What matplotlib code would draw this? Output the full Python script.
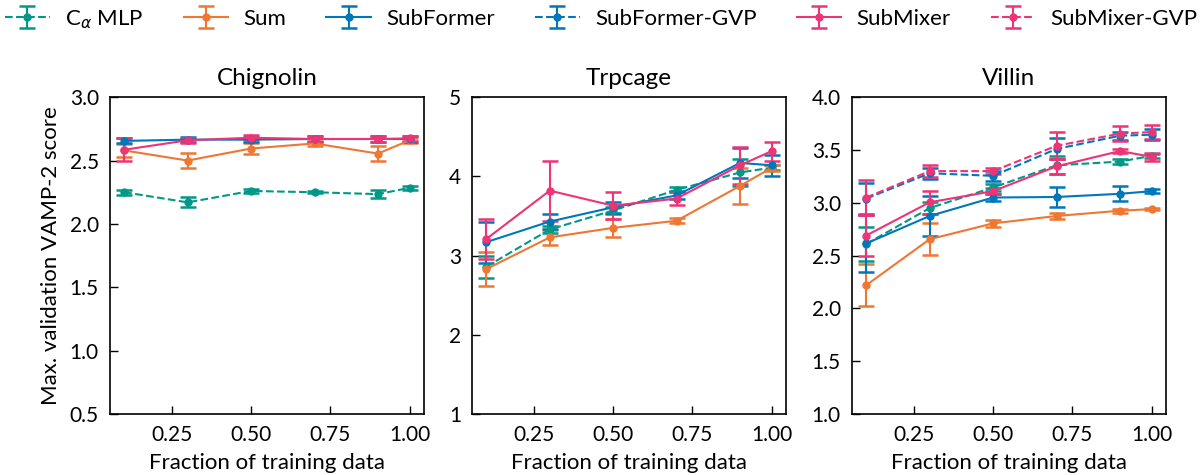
import matplotlib
matplotlib.use("Agg")
import matplotlib.pyplot as plt
import numpy as np

# fraction of training data used
frac = [0.1, 0.3, 0.5, 0.7, 0.9, 1.0]

models = ["C$_\\alpha$ MLP", "Sum", "SubFormer", "SubFormer-GVP", "SubMixer", "SubMixer-GVP"]
colors = ["#009988", "#EE7733", "#0077BB", "#0077BB", "#EE3377", "#EE3377"]
styles = ["--", "-", "-", "--", "-", "--"]

# Chignolin (no GVP runs)
chig_mean = [
    [2.25, 2.17, 2.26, 2.25, 2.235, 2.285],
    [2.58, 2.50, 2.595, 2.635, 2.555, 2.66],
    [2.655, 2.665, 2.665, 2.67, 2.67, 2.67],
    None,
    [2.585, 2.66, 2.68, 2.67, 2.67, 2.675],
    None,
]
chig_err = [
    [0.02, 0.04, 0.015, 0.01, 0.03, 0.015],
    [0.05, 0.06, 0.04, 0.02, 0.06, 0.02],
    [0.02, 0.02, 0.02, 0.02, 0.02, 0.02],
    None,
    [0.09, 0.02, 0.02, 0.02, 0.02, 0.02],
    None,
]

# Trpcage (no GVP runs)
trp_mean = [
    [2.86, 3.33, 3.57, 3.83, 4.05, 4.11],
    [2.83, 3.23, 3.35, 3.44, 3.88, 4.11],
    [3.17, 3.43, 3.61, 3.76, 4.17, 4.14],
    None,
    [3.21, 3.82, 3.63, 3.72, 4.14, 4.32],
    None,
]
trp_err = [
    [0.14, 0.04, 0.04, 0.03, 0.17, 0.03],
    [0.21, 0.09, 0.11, 0.03, 0.23, 0.04],
    [0.26, 0.10, 0.07, 0.05, 0.19, 0.13],
    None,
    [0.25, 0.38, 0.17, 0.08, 0.23, 0.12],
    None,
]

# Villin
vil_mean = [
    [2.61, 2.95, 3.145, 3.355, 3.39, 3.445],
    [2.22, 2.655, 2.805, 2.875, 2.925, 2.94],
    [2.615, 2.875, 3.05, 3.055, 3.085, 3.11],
    [3.04, 3.28, 3.255, 3.51, 3.635, 3.645],
    [2.69, 3.005, 3.11, 3.345, 3.49, 3.435],
    [3.05, 3.30, 3.30, 3.54, 3.655, 3.67],
]
vil_err = [
    [0.16, 0.06, 0.03, 0.085, 0.02, 0.02],
    [0.20, 0.15, 0.03, 0.03, 0.02, 0.01],
    [0.27, 0.19, 0.03, 0.095, 0.07, 0.02],
    [0.15, 0.05, 0.05, 0.10, 0.04, 0.05],
    [0.19, 0.11, 0.03, 0.07, 0.02, 0.04],
    [0.17, 0.06, 0.03, 0.13, 0.07, 0.07],
]

titles = ["Chignolin", "Trpcage", "Villin"]
means = [chig_mean, trp_mean, vil_mean]
errs = [chig_err, trp_err, vil_err]
ylims = [(0.5, 3.0), (1, 5), (1.0, 4.0)]
yticks = [np.arange(0.5, 3.01, 0.5), [1, 2, 3, 4, 5], np.arange(1.0, 4.01, 0.5)]
yfmt = ["{:.1f}", "{:.0f}", "{:.1f}"]

plt.rcParams["font.family"] = ["Lato", "DejaVu Sans"]
plt.rcParams["mathtext.fontset"] = "dejavusans"
plt.rcParams["font.size"] = 15

fig = plt.figure(figsize=(12.03, 4.75), dpi=100)
lefts = [0.0914, 0.3924, 0.7082]
axes = [fig.add_axes([l, 0.1284, 0.261, 0.667]) for l in lefts]

for k, ax in enumerate(axes):
    for i in range(len(models)):
        if means[k][i] is None:
            continue
        ax.errorbar(frac, means[k][i], yerr=errs[k][i], color=colors[i],
                    ls=styles[i], lw=1.5, marker="o", ms=5, capsize=6,
                    capthick=1.8, elinewidth=1.5, label=models[i])
    ax.set_title(titles[k], fontsize=17.5, pad=9)
    ax.set_ylim(ylims[k])
    ax.set_yticks(yticks[k])
    ax.set_yticklabels([yfmt[k].format(v) for v in yticks[k]])
    ax.set_xticks([0.25, 0.5, 0.75, 1.0])
    ax.set_xticklabels(["0.25", "0.50", "0.75", "1.00"])
    ax.set_xlim(0.055, 1.045)
    ax.set_xlabel("Fraction of training data", fontsize=16, labelpad=6)
    ax.tick_params(direction="in", length=5.5, width=1, labelsize=15, pad=8)
    for sp in ax.spines.values():
        sp.set_linewidth(1.2)

axes[0].set_ylabel("Max. validation VAMP-2 score", fontsize=16, labelpad=6)

handles, labels = axes[2].get_legend_handles_labels()
fig.legend(handles, labels, loc="upper center", ncol=6, frameon=False,
           bbox_to_anchor=(0.5, 1.025), columnspacing=1.8, handlelength=2.0,
           handletextpad=0.7, fontsize=16)

fig.savefig("out.png", dpi=100)
